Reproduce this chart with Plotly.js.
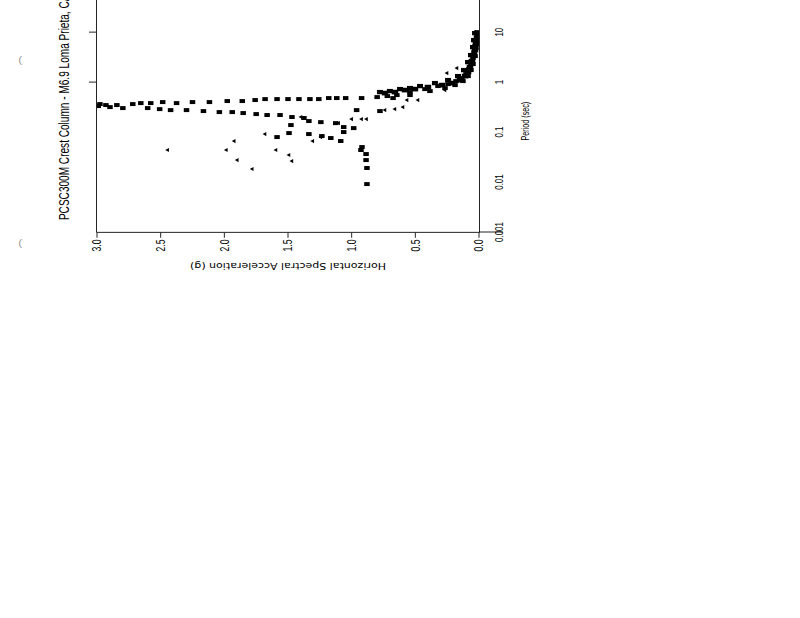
<!DOCTYPE html>
<html>
<head>
<meta charset="utf-8">
<script src="https://cdn.plot.ly/plotly-3.0.1.min.js"></script>
<style>
  html, body { margin: 0; padding: 0; width: 800px; height: 618px; overflow: hidden; background: #ffffff; }
  #chart { position: absolute; left: 0; top: 0; width: 437px; height: 560px;
           transform-origin: 0 0; transform: translate(0px, 282.4px) rotate(-90deg) scale(0.72, 1); }
</style>
</head>
<body>
<div id="chart"></div>
<script>
// Period (sec) and horizontal spectral acceleration (g)
const periodUpper = [0.363,0.347,0.347,0.363,0.380,0.380,0.398,0.380,0.398,0.398,0.417,0.417,0.437,0.457,0.457,0.457,0.457,0.457,0.457,0.479,0.479,0.479,0.479,0.501,0.525,0.550,0.631,0.724,0.832,0.912,1.047,1.20,1.445,1.82,2.29,3.02,3.98,5.25,6.92,8.71,10.0];
const accUpper    = [2.977,2.93,2.844,2.719,2.656,2.578,2.484,2.375,2.25,2.117,1.977,1.859,1.758,1.68,1.586,1.5,1.414,1.328,1.258,1.18,1.117,1.047,0.922,0.80,0.72,0.645,0.542,0.424,0.322,0.243,0.181,0.134,0.102,0.079,0.063,0.047,0.039,0.031,0.024,0.016,0.016];

const periodLower = [0.331,0.316,0.302,0.302,0.288,0.275,0.275,0.263,0.251,0.251,0.240,0.229,0.219,0.219,0.200,0.191,0.166,0.158,0.151,0.126,0.120,0.0501,0.0437,0.0363,0.0275,0.0191,0.0091];
const accLower    = [2.99,2.898,2.797,2.602,2.508,2.422,2.297,2.164,2.039,1.938,1.852,1.75,1.664,1.5625,1.469,1.375,1.336,1.242,1.125,1.0625,0.984,0.919,0.927,0.887,0.887,0.88,0.88];

const periodMid = [0.138,0.0955,0.0794,0.0912,0.0832,0.0759,0.0661,0.100,0.275,0.263,0.479,0.550,0.661,0.759,0.871,1.047,1.318,1.738,2.29,3.31,4.79,6.92,9.55];
const accMid    = [1.477,1.492,1.586,1.336,1.234,1.164,1.086,1.0625,0.961,0.778,0.675,0.542,0.385,0.267,0.188,0.126,0.086,0.063,0.047,0.031,0.024,0.016,0.008];

const periodEdge = [0.631,0.661,0.724,0.759,0.832,0.955,1.096,1.318,1.738,2.51,3.47,5.01,6.92,9.55];
const accEdge    = [0.778,0.70,0.62,0.542,0.463,0.346,0.243,0.165,0.118,0.086,0.063,0.047,0.039,0.031];

const periodBand = [0.603,0.631,0.692,0.724,0.794,0.871,0.955,1.096,1.318,1.585,1.995,2.63,3.47,4.37,5.75,7.59,9.12];
const accBand    = [0.738,0.66,0.581,0.503,0.401,0.291,0.212,0.149,0.110,0.086,0.071,0.055,0.039,0.031,0.024,0.016,0.008];

const periodScatter = [0.0437,0.0437,0.0661,0.0275,0.0182,0.0912,0.0437,0.0347,0.0263,0.200,0.0661,0.0794,0.151,0.182,0.182,0.182,0.275,0.288,0.316,0.437,0.437,0.692,1.514,1.905];
const accScatter    = [2.445,1.984,1.922,1.898,1.781,1.68,1.594,1.492,1.469,1.398,1.305,1.242,1.102,1.0,0.922,0.883,0.738,0.66,0.597,0.565,0.479,0.267,0.251,0.173];

const periodTicks = [0.001, 0.01, 0.1, 1, 10];
const periodTickText = ['0.001', '0.01', '0.1', '1', '10'];
const frameTicks = [1, 10];

const sq = {symbol: 'square', size: 5.5, color: '#000000'};
const traces = [
  {x: periodUpper, y: accUpper, mode: 'markers', marker: sq, name: 'upper'},
  {x: periodLower, y: accLower, mode: 'markers', marker: sq, name: 'lower'},
  {x: periodMid, y: accMid, mode: 'markers', marker: sq, name: 'mid'},
  {x: periodEdge, y: accEdge, mode: 'markers', marker: {symbol: 'square', size: 6, color: '#000000'}, name: 'edge'},
  {x: periodBand, y: accBand, mode: 'markers', marker: {symbol: 'square', size: 6.5, color: '#000000'}, name: 'band'},
  {x: periodScatter, y: accScatter, mode: 'markers', marker: {symbol: 'triangle-up', size: 5, color: '#000000'}, name: 'scatter'},
  {x: [], y: [], xaxis: 'x2', yaxis: 'y', mode: 'markers', name: 'frame'}
];

const layout = {
  width: 437, height: 560,
  margin: {l: 70, r: 20, t: 97, b: 81},
  paper_bgcolor: '#ffffff', plot_bgcolor: '#ffffff',
  showlegend: false,
  font: {family: 'Liberation Sans, Arial, sans-serif', color: '#000000'},
  title: {
    text: 'PCSC300M Crest Column - M6.9 Loma Prieta, CA 1989',
    font: {family: 'Liberation Sans, Arial, sans-serif', size: 14, color: '#000000'},
    xref: 'container', x: 0.198, xanchor: 'left',
    yref: 'container', y: 0.885, yanchor: 'middle'
  },
  xaxis: {
    type: 'log', range: [-3, 2],
    tickvals: periodTicks, ticktext: periodTickText,
    ticks: '', ticklabelstandoff: 10,
    tickfont: {size: 11},
    showline: true, linecolor: '#000000', linewidth: 1,
    showgrid: false, zeroline: false
  },
  xaxis2: {
    type: 'log', range: [-3, 2], overlaying: 'x', side: 'top', anchor: 'y',
    tickvals: frameTicks, ticks: 'outside', ticklen: 7, tickcolor: '#000000',
    showticklabels: false, showline: true, linecolor: '#000000', linewidth: 1,
    showgrid: false, zeroline: false
  },
  yaxis: {
    range: [0, 3], dtick: 0.5, tickformat: '.1f',
    ticks: 'outside', ticklen: 7, tickcolor: '#000000',
    tickfont: {size: 12},
    showline: true, linecolor: '#000000', linewidth: 1,
    showgrid: false, zeroline: false,
    title: {text: 'Horizontal Spectral Acceleration (g)', standoff: 12,
            font: {family: 'DejaVu Sans, sans-serif', size: 11, color: '#000000'}}
  },
  shapes: [
    {type: 'line', xref: 'paper', yref: 'paper', x0: 0, x1: 0, y0: 0, y1: -0.063,
     line: {color: '#000000', width: 1}}
  ],
  annotations: [
    {text: 'Period (sec)', xref: 'paper', yref: 'paper', x: 0.444, y: -0.123,
     xanchor: 'center', yanchor: 'middle', showarrow: false, font: {size: 10}},
    {text: '(', xref: 'paper', yref: 'paper', x: 0.688, y: 1.2016, textangle: 90,
     xanchor: 'center', yanchor: 'middle', showarrow: false, font: {size: 12, color: '#999999'}},
    {text: '(', xref: 'paper', yref: 'paper', x: -0.044, y: 1.2016, textangle: 90,
     xanchor: 'center', yanchor: 'middle', showarrow: false, font: {size: 12, color: '#999999'}}
  ]
};

Plotly.newPlot('chart', traces, layout, {staticPlot: true, displayModeBar: false, responsive: false});
</script>
</body>
</html>
